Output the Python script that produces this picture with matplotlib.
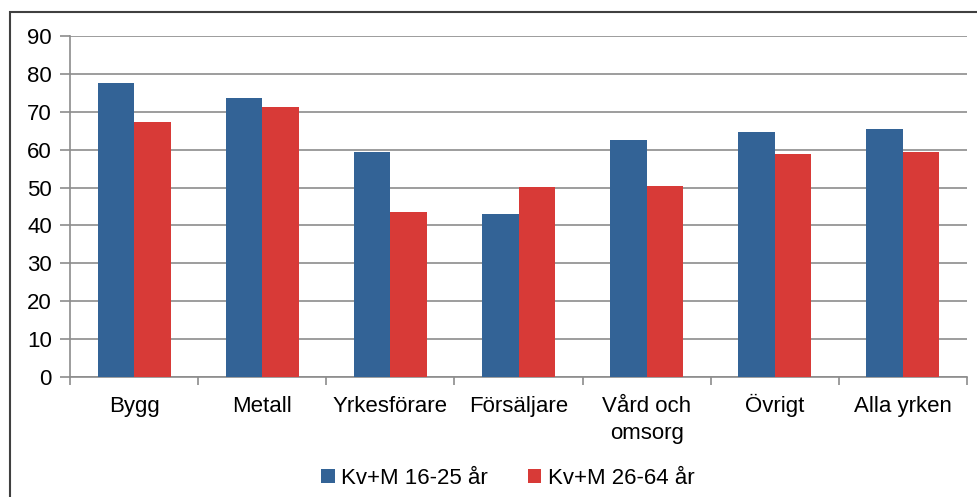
import matplotlib.pyplot as plt
import numpy as np
from matplotlib.patches import Rectangle

categories = ["Bygg", "Metall", "Yrkesförare", "Försäljare", "Vård och\nomsorg", "Övrigt", "Alla yrken"]
young = [77.6, 73.6, 59.4, 43.0, 62.5, 64.6, 65.4]
older = [67.3, 71.2, 43.5, 50.1, 50.4, 58.8, 59.4]
series_labels = ["Kv+M 16-25 år", "Kv+M 26-64 år"]

blue = "#336396"
red = "#d83a37"
grid_c = "#8c8c8c"

plt.rcParams['font.family'] = ['Liberation Sans', 'DejaVu Sans']

W, H = 977, 497
fig = plt.figure(figsize=(W / 100, H / 100), dpi=100)
ax_h = 377 - 36
ax = fig.add_axes([70 / W, 1 - 377 / H, (967 - 70) / W, ax_h / H])

# outer chart frame (runs past right and bottom edge)
fig.patches.append(Rectangle((10 / W, -0.1), 1.2, 1.1 - 12 / H, transform=fig.transFigure,
                             fill=False, edgecolor="#404040", linewidth=1.5))

x = np.arange(len(categories))
w = 0.285
ax.bar(x - w / 2, young, w, color=blue, label=series_labels[0], zorder=3)
ax.bar(x + w / 2, older, w, color=red, label=series_labels[1], zorder=3)

ax.set_xlim(-0.5, len(categories) - 0.5)
ax.set_ylim(0, 90)
ax.set_yticks(range(0, 91, 10))
ax.yaxis.grid(True, color=grid_c, linewidth=1.2, zorder=0)
ax.set_axisbelow(True)

# category labels placed on a common baseline (so "Övrigt" lines up with the rest)
ax.set_xticks(np.arange(-0.5, len(categories)))
ax.set_xticklabels([])
for xi, lab in zip(x, categories):
    first, *rest = lab.split("\n")
    ax.text(xi, -35 / ax_h, first, transform=ax.get_xaxis_transform(),
            ha="center", va="baseline", fontsize=16)
    for k, line in enumerate(rest, start=1):
        ax.text(xi, -(35 + 27 * k) / ax_h, line, transform=ax.get_xaxis_transform(),
                ha="center", va="baseline", fontsize=16)

ax.tick_params(axis="x", length=6, color=grid_c, width=1.2)
ax.tick_params(axis="y", length=7, color=grid_c, width=1.2, labelsize=16, pad=6)

for s in ["top", "right"]:
    ax.spines[s].set_visible(False)
for s in ["left", "bottom"]:
    ax.spines[s].set_color(grid_c)
    ax.spines[s].set_linewidth(1.2)

fig.legend(loc="center", bbox_to_anchor=(508 / W, 1 - 478 / H), ncol=2, frameon=False,
           fontsize=16, handlelength=0.6, handleheight=0.6, handletextpad=0.3,
           columnspacing=1.8)

fig.savefig("out.png", dpi=100)
